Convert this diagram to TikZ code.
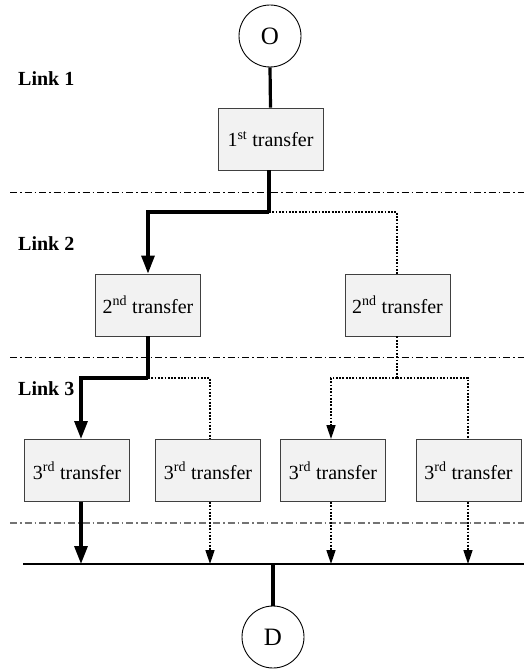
\documentclass[tikz,border=0pt]{standalone}
\usepackage{fontspec}
\setmainfont{Liberation Serif}
\usetikzlibrary{arrows.meta}
\tikzset{
  transferbox/.style={draw=black!75, fill=black!5, line width=0.9pt, minimum width=105pt, minimum height=62pt, inner sep=0pt, font=\fontsize{20}{24}\selectfont},
  endpoint/.style={draw, circle, line width=0.9pt, minimum size=62pt, inner sep=0pt, font=\fontsize{25}{30}\selectfont},
  linklabel/.style={anchor=west, inner sep=0pt, font=\fontsize{20}{24}\selectfont\bfseries},
  mainpath/.style={line width=3.2pt},
  altpath/.style={line width=1.6pt, dash pattern=on 1.8pt off 1.5pt},
  bigtip/.style={-{Triangle[width=13pt,length=18pt]}},
  smalltip/.style={-{Triangle[width=9pt,length=14pt]}},
  stagesep/.style={line width=0.9pt, dash pattern=on 7pt off 3pt on 1.5pt off 3pt},
}
\newcommand{\tr}[2]{#1\textsuperscript{#2} transfer}
\begin{document}
\begin{tikzpicture}[x=1pt,y=-1pt]
\useasboundingbox (0,0) rectangle (524,671);

% stage separators
\draw[stagesep] (10,192) -- (524,192);
\draw[stagesep] (10,357) -- (524,357);
\draw[stagesep, draw=black!55, line width=1.6pt] (10,523) -- (524,523);

% stage labels
\node[linklabel] (l1) at (18,79) {Link 1};
\node[linklabel] (l2) at (18,244) {Link 2};
\node[linklabel] (l3) at (18,389) {Link 3};

% origin and destination
\node[endpoint] (O) at (270,36) {O};
\node[endpoint] (D) at (273,637) {D};

% transfers
\node[transferbox] (t1) at (270.5,139) {\tr{1}{st}};
\node[transferbox] (t2a) at (148,305) {\tr{2}{nd}};
\node[transferbox] (t2b) at (397.5,305) {\tr{2}{nd}};
\node[transferbox] (t3a) at (77,470.5) {\tr{3}{rd}};
\node[transferbox] (t3b) at (208,470.5) {\tr{3}{rd}};
\node[transferbox] (t3c) at (333,470.5) {\tr{3}{rd}};
\node[transferbox] (t3d) at (468.5,470.5) {\tr{3}{rd}};

% branching points and collector line
\coordinate (j1) at (269,212);
\coordinate (j2) at (148,378);
\coordinate (j3) at (397,378);
\coordinate (busL) at (23,564);
\coordinate (busR) at (524,564);
\coordinate (busM) at (273,564);

% link 1
\draw[mainpath] (O.south) -- (t1.north);
% link 2
\draw[mainpath] (t1.south -| j1) -- (j1);
\draw[mainpath, bigtip] (j1) -| (t2a.north);
\draw[altpath] (j1) -| (t2b.north -| 397,0);
% link 3
\draw[mainpath] (t2a.south) -- (j2);
\draw[mainpath, bigtip] (j2) -| (81,439);
\draw[altpath] (j2) -| (210,439);
\draw[altpath] (t2b.south -| j3) -- (j3);
\draw[altpath, smalltip] (j3) -| (331,439);
\draw[altpath] (j3) -| (468,439);
% final legs
\draw[mainpath, bigtip] (t3a.south -| 81,0) -- (busL -| 81,0);
\draw[altpath, smalltip] (t3b.south -| 210,0) -- (busL -| 210,0);
\draw[altpath, smalltip] (t3c.south -| 331,0) -- (busL -| 331,0);
\draw[altpath, smalltip] (t3d.south -| 468,0) -- (busL -| 468,0);
\draw[line width=1.2pt] (busL) -- (busR);
\draw[mainpath] (busM) -- (D.north);
\end{tikzpicture}
\end{document}
